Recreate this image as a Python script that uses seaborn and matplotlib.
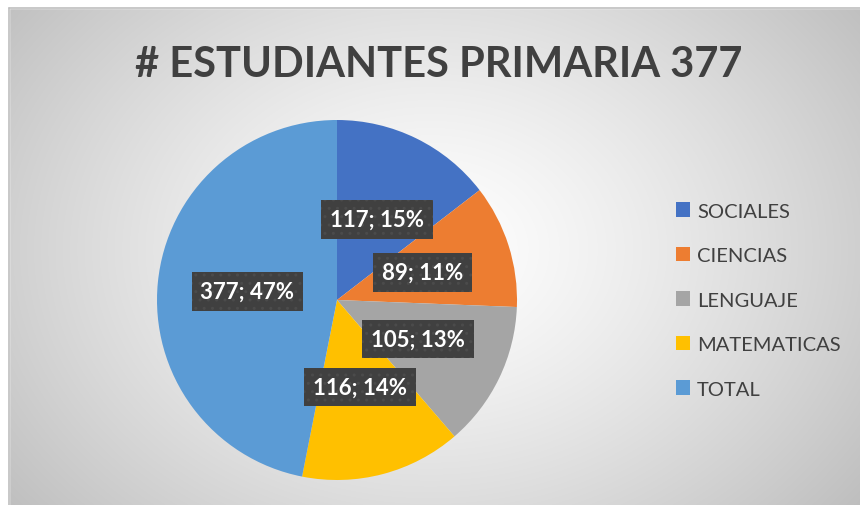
import numpy as np
import matplotlib
matplotlib.use("Agg")
import matplotlib.pyplot as plt
import seaborn as sns
from matplotlib.patches import Patch, Rectangle

materias = ["SOCIALES", "CIENCIAS", "LENGUAJE", "MATEMATICAS", "TOTAL"]
estudiantes = [117, 89, 105, 116, 377]
colores = ["#4472C4", "#ED7D31", "#A5A5A5", "#FFC000", "#5B9BD5"]
titulo = "# ESTUDIANTES PRIMARIA 377"

sns.set_style("white")
plt.rcParams["font.family"] = ["Lato", "DejaVu Sans"]

W, H = 860, 506
fig = plt.figure(figsize=(W / 100, H / 100), dpi=100)
fig.patch.set_facecolor("white")

# fondo con degradado radial
bg = fig.add_axes([0, 0, 1, 1])
yy, xx = np.mgrid[0:H, 0:W]
cx, cy = 430, 250
d = np.sqrt(((xx - cx) / 520.0) ** 2 + ((yy - cy) / 400.0) ** 2)
g = np.clip(1.0 - 0.24 * d ** 1.3, 0, 1)
img = np.dstack([g, g, g])
bg.imshow(img, extent=[0, W, H, 0], aspect="auto", interpolation="bilinear")
bg.add_patch(Rectangle((0, 0), W, 9, color="white", zorder=2))
bg.add_patch(Rectangle((0, 0), 9, H, color="white", zorder=2))
bg.plot([9, W], [9, 9], color="#bfbfbf", lw=1.2, zorder=3)
bg.plot([9, 9], [9, H], color="#bfbfbf", lw=1.2, zorder=3)
bg.set_xlim(0, W)
bg.set_ylim(H, 0)
bg.axis("off")

fig.text(439 / W, 1 - 65 / H, titulo, ha="center", va="center",
         fontsize=30, fontweight="bold", color="#404040")

# pastel
cxp, cyp, r = 337, 301, 180
ax = fig.add_axes([(cxp - r) / W, (H - cyp - r) / H, 2 * r / W, 2 * r / H])
total = sum(estudiantes)


def etiqueta(pct):
    v = int(round(pct * total / 100.0))
    return f"{v}; {pct:.0f}%"


wedges, texts, autotexts = ax.pie(
    estudiantes, colors=colores, startangle=90, counterclock=False,
    autopct=etiqueta, pctdistance=0.5, wedgeprops=dict(linewidth=0))
for t in autotexts:
    t.set_color("white")
    t.set_fontsize(16)
    t.set_fontweight("bold")
    t.set_bbox(dict(boxstyle="square,pad=0.4", facecolor="#404040",
                    edgecolor="#4b4b4b", linewidth=0, hatch=".."))
ax.set_xlim(-1, 1)
ax.set_ylim(-1, 1)
ax.set_aspect("equal")
ax.axis("off")

handles = [Patch(facecolor=c, edgecolor="none") for c in colores]
fig.legend(handles, materias, loc="center left",
           bbox_to_anchor=(676 / W, 1 - 301 / H), frameon=False,
           fontsize=14.5, labelcolor="#404040", handlelength=0.7,
           handleheight=0.7, handletextpad=0.35, labelspacing=1.36,
           borderpad=0, borderaxespad=0)

fig.savefig("out.png", dpi=100)
